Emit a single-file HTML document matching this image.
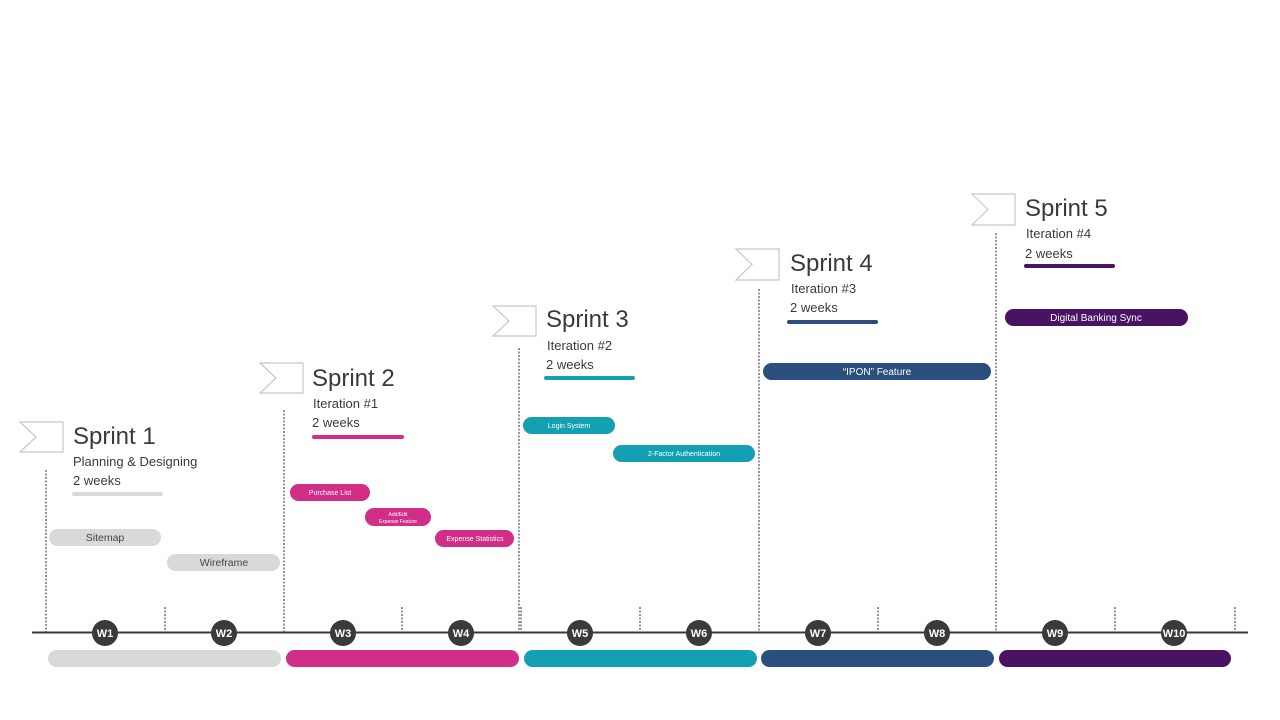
<!DOCTYPE html>
<html><head><meta charset="utf-8"><style>
html,body{margin:0;padding:0;background:#fff;width:1280px;height:720px;overflow:hidden}
svg{display:block;font-family:"Liberation Sans","DejaVu Sans",sans-serif}
</style></head><body>
<svg width="1280" height="720" viewBox="0 0 1280 720" xmlns="http://www.w3.org/2000/svg">
<g stroke="#2a2a5e" stroke-width="1" stroke-dasharray="2,1.5">
<line x1="46" y1="470" x2="46" y2="632"/>
<line x1="284" y1="410" x2="284" y2="632"/>
<line x1="519" y1="348" x2="519" y2="632"/>
<line x1="759" y1="289" x2="759" y2="632"/>
<line x1="996" y1="233" x2="996" y2="632"/>
<line x1="165" y1="607" x2="165" y2="632"/>
<line x1="402" y1="607" x2="402" y2="632"/>
<line x1="521" y1="607" x2="521" y2="632"/>
<line x1="640" y1="607" x2="640" y2="632"/>
<line x1="878" y1="607" x2="878" y2="632"/>
<line x1="1115" y1="607" x2="1115" y2="632"/>
<line x1="1235" y1="607" x2="1235" y2="632"/>
</g>
<line x1="32" y1="632.5" x2="1248" y2="632.5" stroke="#3a3a3a" stroke-width="2"/>
<g fill="#3a3a3a">
<circle cx="105" cy="633" r="13"/><circle cx="224" cy="633" r="13"/><circle cx="343" cy="633" r="13"/><circle cx="461" cy="633" r="13"/><circle cx="580" cy="633" r="13"/><circle cx="699" cy="633" r="13"/><circle cx="818" cy="633" r="13"/><circle cx="937" cy="633" r="13"/><circle cx="1055" cy="633" r="13"/><circle cx="1174" cy="633" r="13"/>
</g>
<g fill="#fff" font-size="11" font-weight="bold" text-anchor="middle">
<text x="105" y="637">W1</text><text x="224" y="637">W2</text><text x="343" y="637">W3</text><text x="461" y="637">W4</text><text x="580" y="637">W5</text><text x="699" y="637">W6</text><text x="818" y="637">W7</text><text x="937" y="637">W8</text><text x="1055" y="637">W9</text><text x="1174" y="637">W10</text>
</g>
<rect x="48" y="650" width="233" height="17" rx="8.5" fill="#d9d9d9"/>
<rect x="286" y="650" width="233" height="17" rx="8.5" fill="#d02e87"/>
<rect x="524" y="650" width="233" height="17" rx="8.5" fill="#13a0b3"/>
<rect x="761" y="650" width="233" height="17" rx="8.5" fill="#2a4f7e"/>
<rect x="999" y="650" width="232" height="17" rx="8.5" fill="#4a1263"/>
<g fill="#fff" stroke="#c8c8c8" stroke-width="1.2">
<path d="M20,422 H63 V452 H20 L36,437 Z"/>
<path d="M260,363 H303 V393 H260 L276,378 Z"/>
<path d="M493,306 H536 V336 H493 L509,321 Z"/>
<path d="M736,249 H779 V280 H736 L752,264.5 Z"/>
<path d="M972,194 H1015 V225 H972 L988,209.5 Z"/>
</g>
<g fill="#3a3a3a">
<text x="73" y="444" font-size="24">Sprint 1</text>
<text x="73" y="466" font-size="13">Planning &amp; Designing</text>
<text x="73" y="485" font-size="13">2 weeks</text>
<text x="312" y="386" font-size="24">Sprint 2</text>
<text x="313" y="408" font-size="13">Iteration #1</text>
<text x="312" y="427" font-size="13">2 weeks</text>
<text x="546" y="327" font-size="24">Sprint 3</text>
<text x="547" y="350" font-size="13">Iteration #2</text>
<text x="546" y="369" font-size="13">2 weeks</text>
<text x="790" y="271" font-size="24">Sprint 4</text>
<text x="791" y="293" font-size="13">Iteration #3</text>
<text x="790" y="312" font-size="13">2 weeks</text>
<text x="1025" y="216" font-size="24">Sprint 5</text>
<text x="1026" y="238" font-size="13">Iteration #4</text>
<text x="1025" y="258" font-size="13">2 weeks</text>
</g>
<rect x="72" y="492" width="91" height="4" rx="2" fill="#d9d9d9"/>
<rect x="312" y="435" width="92" height="4" rx="2" fill="#d02e87"/>
<rect x="544" y="376" width="91" height="4" rx="2" fill="#13a0b3"/>
<rect x="787" y="320" width="91" height="4" rx="2" fill="#2a4f7e"/>
<rect x="1024" y="264" width="91" height="4" rx="2" fill="#4a1263"/>
<rect x="49" y="529" width="112" height="17" rx="8.5" fill="#d9d9d9"/>
<text x="105" y="541" font-size="10.5" fill="#444" text-anchor="middle">Sitemap</text>
<rect x="167" y="554" width="113" height="17" rx="8.5" fill="#d9d9d9"/>
<text x="224" y="566" font-size="10.5" fill="#444" text-anchor="middle">Wireframe</text>
<rect x="290" y="484" width="80" height="17" rx="8.5" fill="#d02e87"/>
<text x="330" y="495" font-size="7" fill="#fff" text-anchor="middle">Purchase List</text>
<rect x="365" y="508" width="66" height="18" rx="9" fill="#d02e87"/>
<text x="398" y="516" font-size="5" fill="#fff" text-anchor="middle">Add/Edit</text>
<text x="398" y="523" font-size="5" fill="#fff" text-anchor="middle">Expense Feature</text>
<rect x="435" y="530" width="79" height="17" rx="8.5" fill="#d02e87"/>
<text x="475" y="541" font-size="7" fill="#fff" text-anchor="middle">Expense Statistics</text>
<rect x="523" y="417" width="92" height="17" rx="8.5" fill="#13a0b3"/>
<text x="569" y="428" font-size="7" fill="#fff" text-anchor="middle">Login System</text>
<rect x="613" y="445" width="142" height="17" rx="8.5" fill="#13a0b3"/>
<text x="684" y="456" font-size="7" fill="#fff" text-anchor="middle">2-Factor Authentication</text>
<rect x="763" y="363" width="228" height="17" rx="8.5" fill="#2a4f7e"/>
<text x="877" y="375" font-size="10" fill="#fff" text-anchor="middle">“IPON” Feature</text>
<rect x="1005" y="309" width="183" height="17" rx="8.5" fill="#4a1263"/>
<text x="1096" y="321" font-size="10" fill="#fff" text-anchor="middle">Digital Banking Sync</text>
</svg>
</body></html>
